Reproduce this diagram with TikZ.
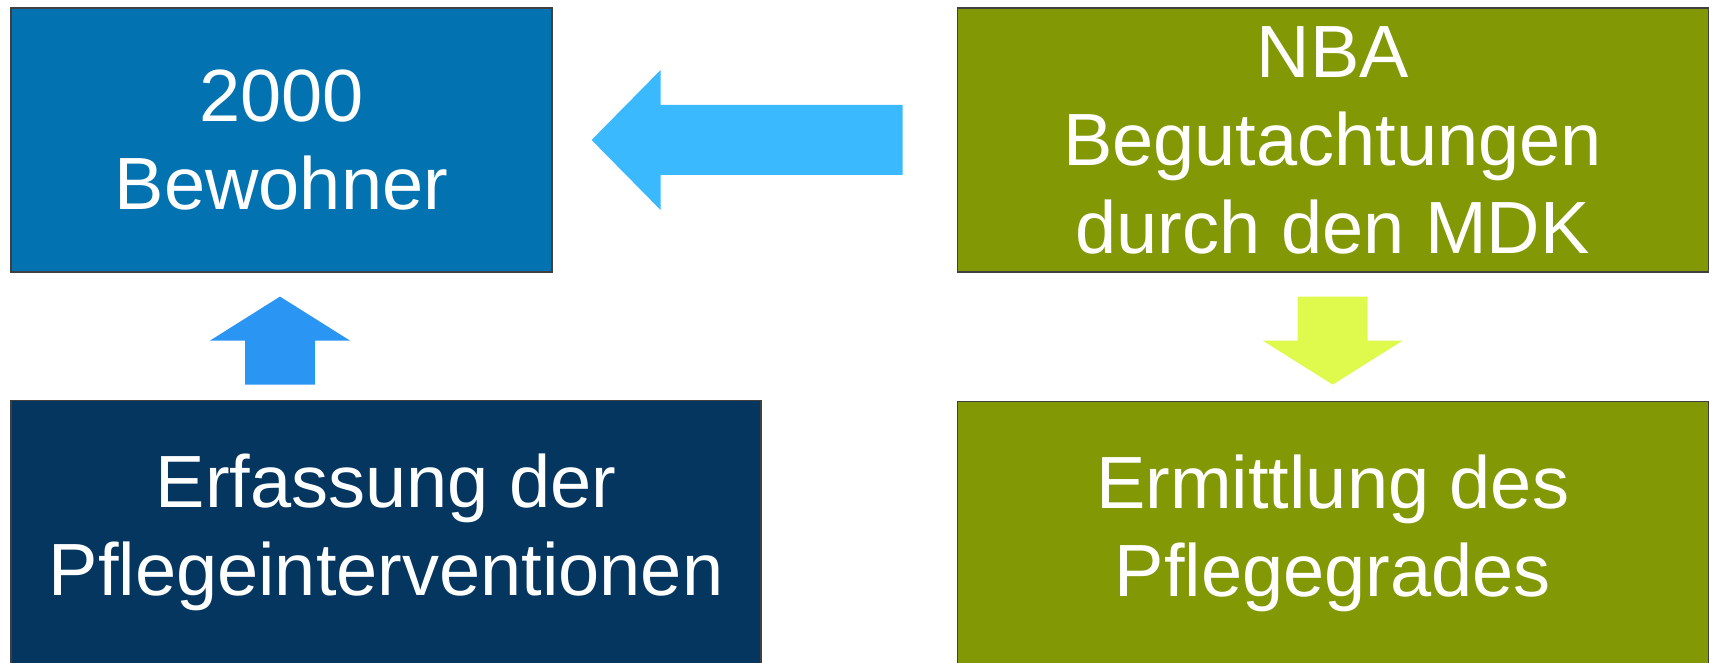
\documentclass[tikz,border=0pt]{standalone}
\usepackage{fontspec}
\setmainfont{Liberation Sans}
\usepackage{xcolor}
\usetikzlibrary{calc,positioning}

\definecolor{bewohnerblue}{RGB}{2,114,177}
\definecolor{olivegreen}{RGB}{131,152,5}
\definecolor{navyblue}{RGB}{4,54,96}
\definecolor{skyarrow}{RGB}{59,185,255}
\definecolor{bluearrow}{RGB}{43,149,243}
\definecolor{limearrow}{RGB}{223,250,76}

\begin{document}
\begin{tikzpicture}[
boxnode/.style={rectangle, draw=black!75, line width=1.2pt, text=white, align=center, minimum height=264pt, inner sep=0pt, font=\fontsize{74}{88}\selectfont},
]
\useasboundingbox (0,0) rectangle (1709pt,662pt);
%Nodes
\node[boxnode, fill=bewohnerblue, minimum width=541pt] (bewohner) at (281.5pt,522pt) {2000\\Bewohner};
\node[boxnode, fill=olivegreen, minimum width=751pt] (nba) [right=404pt of bewohner] {NBA\\Begutachtungen\\durch den MDK};
\node[boxnode, fill=navyblue, minimum width=750pt] (erfassung) [below=127pt of bewohner.south west, anchor=north west] {Erfassung der\\Pflegeinterventionen};
\node[boxnode, fill=olivegreen, minimum width=751pt] (ermittlung) [below=128pt of nba.south west, anchor=north west] {Ermittlung des\\Pflegegrades};
%Arrows
\coordinate (lefttip) at ($(bewohner.east)+(39pt,0)$);
\coordinate (leftend) at ($(nba.west)+(-54pt,0)$);
\fill[skyarrow] (lefttip) -- ($(lefttip)+(69pt,70pt)$) -- ($(lefttip)+(69pt,35pt)$) -- ($(leftend)+(0,35pt)$) -- ($(leftend)+(0,-35pt)$) -- ($(lefttip)+(69pt,-35pt)$) -- ($(lefttip)+(69pt,-70pt)$) -- cycle;
\coordinate (uptip) at ($(bewohner.south)+(-1.5pt,-24pt)$);
\coordinate (upend) at ($(uptip |- erfassung.north)+(0,15pt)$);
\fill[bluearrow] (uptip) -- ($(uptip)+(70pt,-44pt)$) -- ($(uptip)+(35pt,-44pt)$) -- ($(upend)+(35pt,0)$) -- ($(upend)+(-35pt,0)$) -- ($(uptip)+(-35pt,-44pt)$) -- ($(uptip)+(-70pt,-44pt)$) -- cycle;
\coordinate (downend) at ($(nba.south)+(0,-24pt)$);
\coordinate (downtip) at ($(downend |- ermittlung.north)+(0,16pt)$);
\fill[limearrow] (downtip) -- ($(downtip)+(70pt,44pt)$) -- ($(downtip)+(35pt,44pt)$) -- ($(downend)+(35pt,0)$) -- ($(downend)+(-35pt,0)$) -- ($(downtip)+(-35pt,44pt)$) -- ($(downtip)+(-70pt,44pt)$) -- cycle;
\end{tikzpicture}
\end{document}
